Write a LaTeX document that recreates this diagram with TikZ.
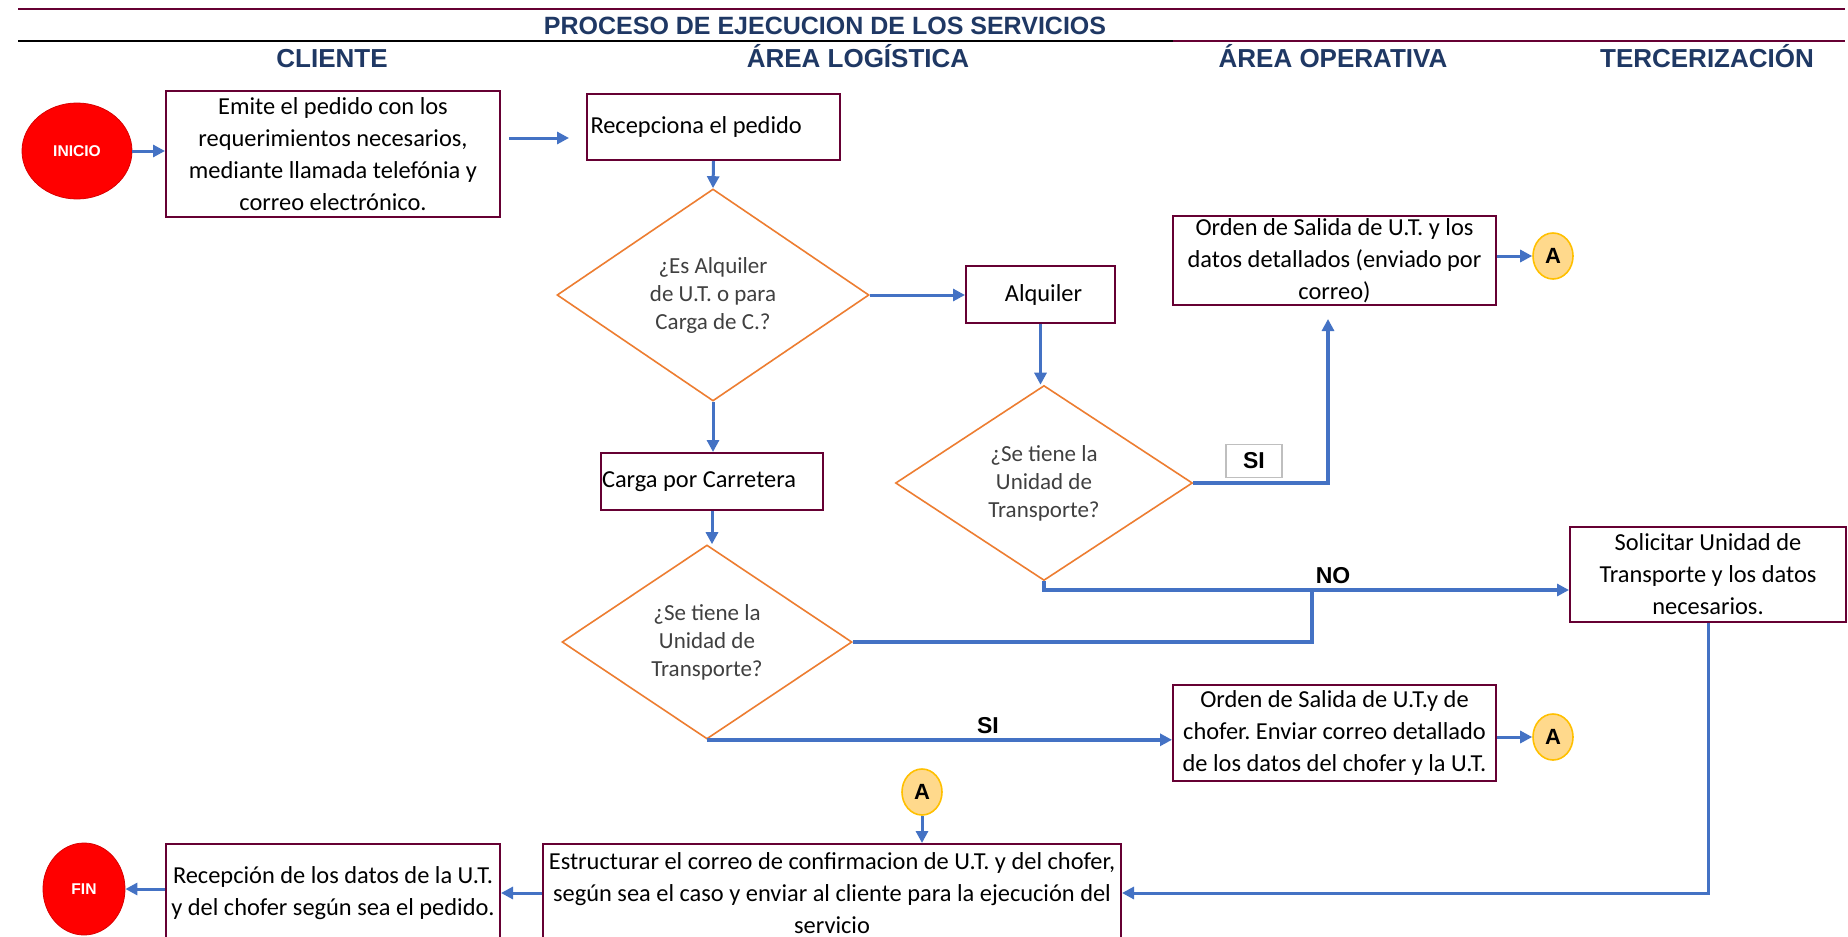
\documentclass[tikz,border=0pt]{standalone}
\usepackage{fontspec}
\setmainfont{Carlito}
\newfontfamily\arialfont{Liberation Sans}
\usetikzlibrary{arrows.meta,shapes.geometric}
\definecolor{vino}{RGB}{102,0,51}
\definecolor{azulFlecha}{RGB}{68,114,196}
\definecolor{naranja}{RGB}{237,125,49}
\definecolor{marino}{RGB}{31,56,100}
\definecolor{rellenoA}{RGB}{255,217,140}
\definecolor{bordeA}{RGB}{255,192,0}
\frenchspacing
\begin{document}
\begin{tikzpicture}[x=0.5pt, y=-0.5pt,
	every node/.style={inner sep=0pt, font=\fontsize{12.2}{16}\selectfont},
	box/.style={draw=vino, line width=1pt, fill=white, align=center},
	decision/.style={diamond, draw=naranja, line width=0.8pt, align=center, text=black!75, font=\fontsize{11.5}{14}\selectfont},
	terminal/.style={ellipse, draw=red!85!black, line width=0.4pt, fill=red, text=white, font=\arialfont\bfseries\fontsize{7.8}{9}\selectfont},
	connector/.style={ellipse, draw=bordeA, line width=0.8pt, fill=rellenoA, minimum width=20pt, minimum height=23pt, font=\arialfont\bfseries\fontsize{11}{12}\selectfont},
	flow/.style={draw=azulFlecha, line width=1.5pt},
	thick flow/.style={draw=azulFlecha, line width=2pt},
	arr/.style={-{Triangle[length=6pt,width=6pt]}},
	header/.style={text=marino, anchor=base, font=\arialfont\bfseries\fontsize{13}{15}\selectfont},
	tag/.style={font=\arialfont\bfseries\fontsize{11.5}{13}\selectfont}]
	\clip (0,0) rectangle (1848,937);
	\fill[white] (0,0) rectangle (1848,937);
	% encabezado
	\draw[vino, line width=1.2pt] (18,9) -- (1845,9);
	\draw[black, line width=1.2pt] (18,41) -- (1173,41);
	\draw[vino, line width=1.2pt] (1173,41) -- (1845,41);
	\node[header, font=\arialfont\bfseries\fontsize{12.5}{14}\selectfont] (titulo) at (825,34) {PROCESO DE EJECUCION DE LOS SERVICIOS};
	\node[header] (clienteText) at (332,67) {CLIENTE};
	\node[header] (logisticaText) at (858,67) {ÁREA LOGÍSTICA};
	\node[header] (operativaText) at (1333,67) {ÁREA OPERATIVA};
	\node[header] (tercerText) at (1707,67) {TERCERIZACIÓN};
	% nodos
	\node[terminal, minimum width=55pt, minimum height=48pt] (inicio) at (77,151) {INICIO};
	\node[box, minimum width=167pt, minimum height=63pt] (pedidoBox) at (333,154) {Emite el pedido con los\\requerimientos necesarios,\\mediante llamada telefónia y\\correo electrónico.};
	\node[box, minimum width=126.5pt, minimum height=33pt] (recepcionBox) at (713.5,127) {\makebox[123pt][l]{Recepciona el pedido}};
	\node[decision, minimum width=156pt, minimum height=106pt] (decisionUno) at (713,295) {¿Es Alquiler\\de U.T. o para\\Carga de C.?};
	\node[box, minimum width=74.5pt, minimum height=28.5pt] (alquilerBox) at (1040.5,294.5) {\hspace{3pt}Alquiler};
	\node[decision, minimum width=148.5pt, minimum height=97.5pt] (decisionDos) at (1044,483) {¿Se tiene la\\Unidad de\\Transporte?};
	\node[box, minimum width=161.5pt, minimum height=44.5pt] (ordenAlquilerBox) at (1334.5,260.5) {Orden de Salida de U.T. y los\\datos detallados (enviado por\\correo)};
	\node[connector] (conectorAUno) at (1553,256) {A};
	\node[box, minimum width=138pt, minimum height=47.5pt] (solicitarBox) at (1708,574.5) {Solicitar Unidad de\\Transporte y los datos\\necesarios.};
	\node[box, minimum width=111pt, minimum height=28.5pt] (cargaBox) at (712,481.5) {\makebox[110pt][l]{Carga por Carretera}};
	\node[decision, minimum width=145pt, minimum height=97pt] (decisionTres) at (707,642) {¿Se tiene la\\Unidad de\\Transporte?};
	\node[box, minimum width=161.5pt, minimum height=48pt] (ordenCargaBox) at (1334.5,733) {Orden de Salida de U.T.y de\\chofer. Enviar correo detallado\\de los datos del chofer y la U.T.};
	\node[connector] (conectorADos) at (1553,737) {A};
	\node[connector] (conectorATres) at (922,792) {A};
	\node[box, minimum width=289pt, minimum height=49pt] (estructurarBox) at (832,893) {Estructurar el correo de confirmacion de U.T. y del chofer,\\según sea el caso y enviar al cliente para la ejecución del\\servicio};
	\node[box, minimum width=167pt, minimum height=49pt] (recepcionDatosBox) at (333,893) {Recepción de los datos de la U.T.\\y del chofer según sea el pedido.};
	\node[terminal, minimum width=41pt, minimum height=46pt] (fin) at (84,889) {FIN};
	% etiquetas
	\node[tag, draw=black!25, line width=0.6pt, fill=white, minimum width=28pt, minimum height=16.5pt] (siUnoText) at (1254,461) {SI};
	\node[tag] (noText) at (1333,576) {NO};
	\node[tag] (siDosText) at (988,726) {SI};
	\coordinate (noUnion) at (1312,590);
	% flechas
	\draw[flow, arr] (inicio.east) -- (inicio.east -| pedidoBox.west);
	\draw[flow, arr] ([xshift=4pt,yshift=8pt]pedidoBox.east) -- ([xshift=-8.5pt,yshift=-5.5pt]recepcionBox.west);
	\draw[flow, arr] (recepcionBox.south) -- (decisionUno.north);
	\draw[flow, arr] (decisionUno.east) -- (decisionUno.east -| alquilerBox.west);
	\draw[flow, arr] (alquilerBox.south) -- (alquilerBox.south |- decisionDos.north);
	\draw[flow, arr] (decisionUno.south) -- (decisionUno.south |- cargaBox.north);
	\draw[flow, arr] (cargaBox.south) -- (cargaBox.south |- decisionTres.north);
	\draw[thick flow, arr] (decisionDos.east) -| ([xshift=-3.25pt,yshift=-6.5pt]ordenAlquilerBox.south);
	\draw[flow, arr] (conectorAUno.west -| ordenAlquilerBox.east) -- (conectorAUno.west);
	\draw[thick flow, arr] (decisionDos.south) |- ([yshift=-7.75pt]solicitarBox.west);
	\draw[thick flow] (decisionTres.east) -| (noUnion);
	\draw[thick flow, arr] (decisionTres.south) -- (decisionTres.south -| ordenCargaBox.west);
	\draw[flow, arr] (conectorADos.west -| ordenCargaBox.east) -- (conectorADos.west);
	\draw[flow, arr] (conectorATres.south) -- (conectorATres.south |- estructurarBox.north);
	\draw[flow, arr] (solicitarBox.south) |- (estructurarBox.east);
	\draw[flow, arr] (estructurarBox.west) -- (recepcionDatosBox.east);
	\draw[flow, arr] (fin.east -| recepcionDatosBox.west) -- (fin.east);
\end{tikzpicture}
\end{document}
